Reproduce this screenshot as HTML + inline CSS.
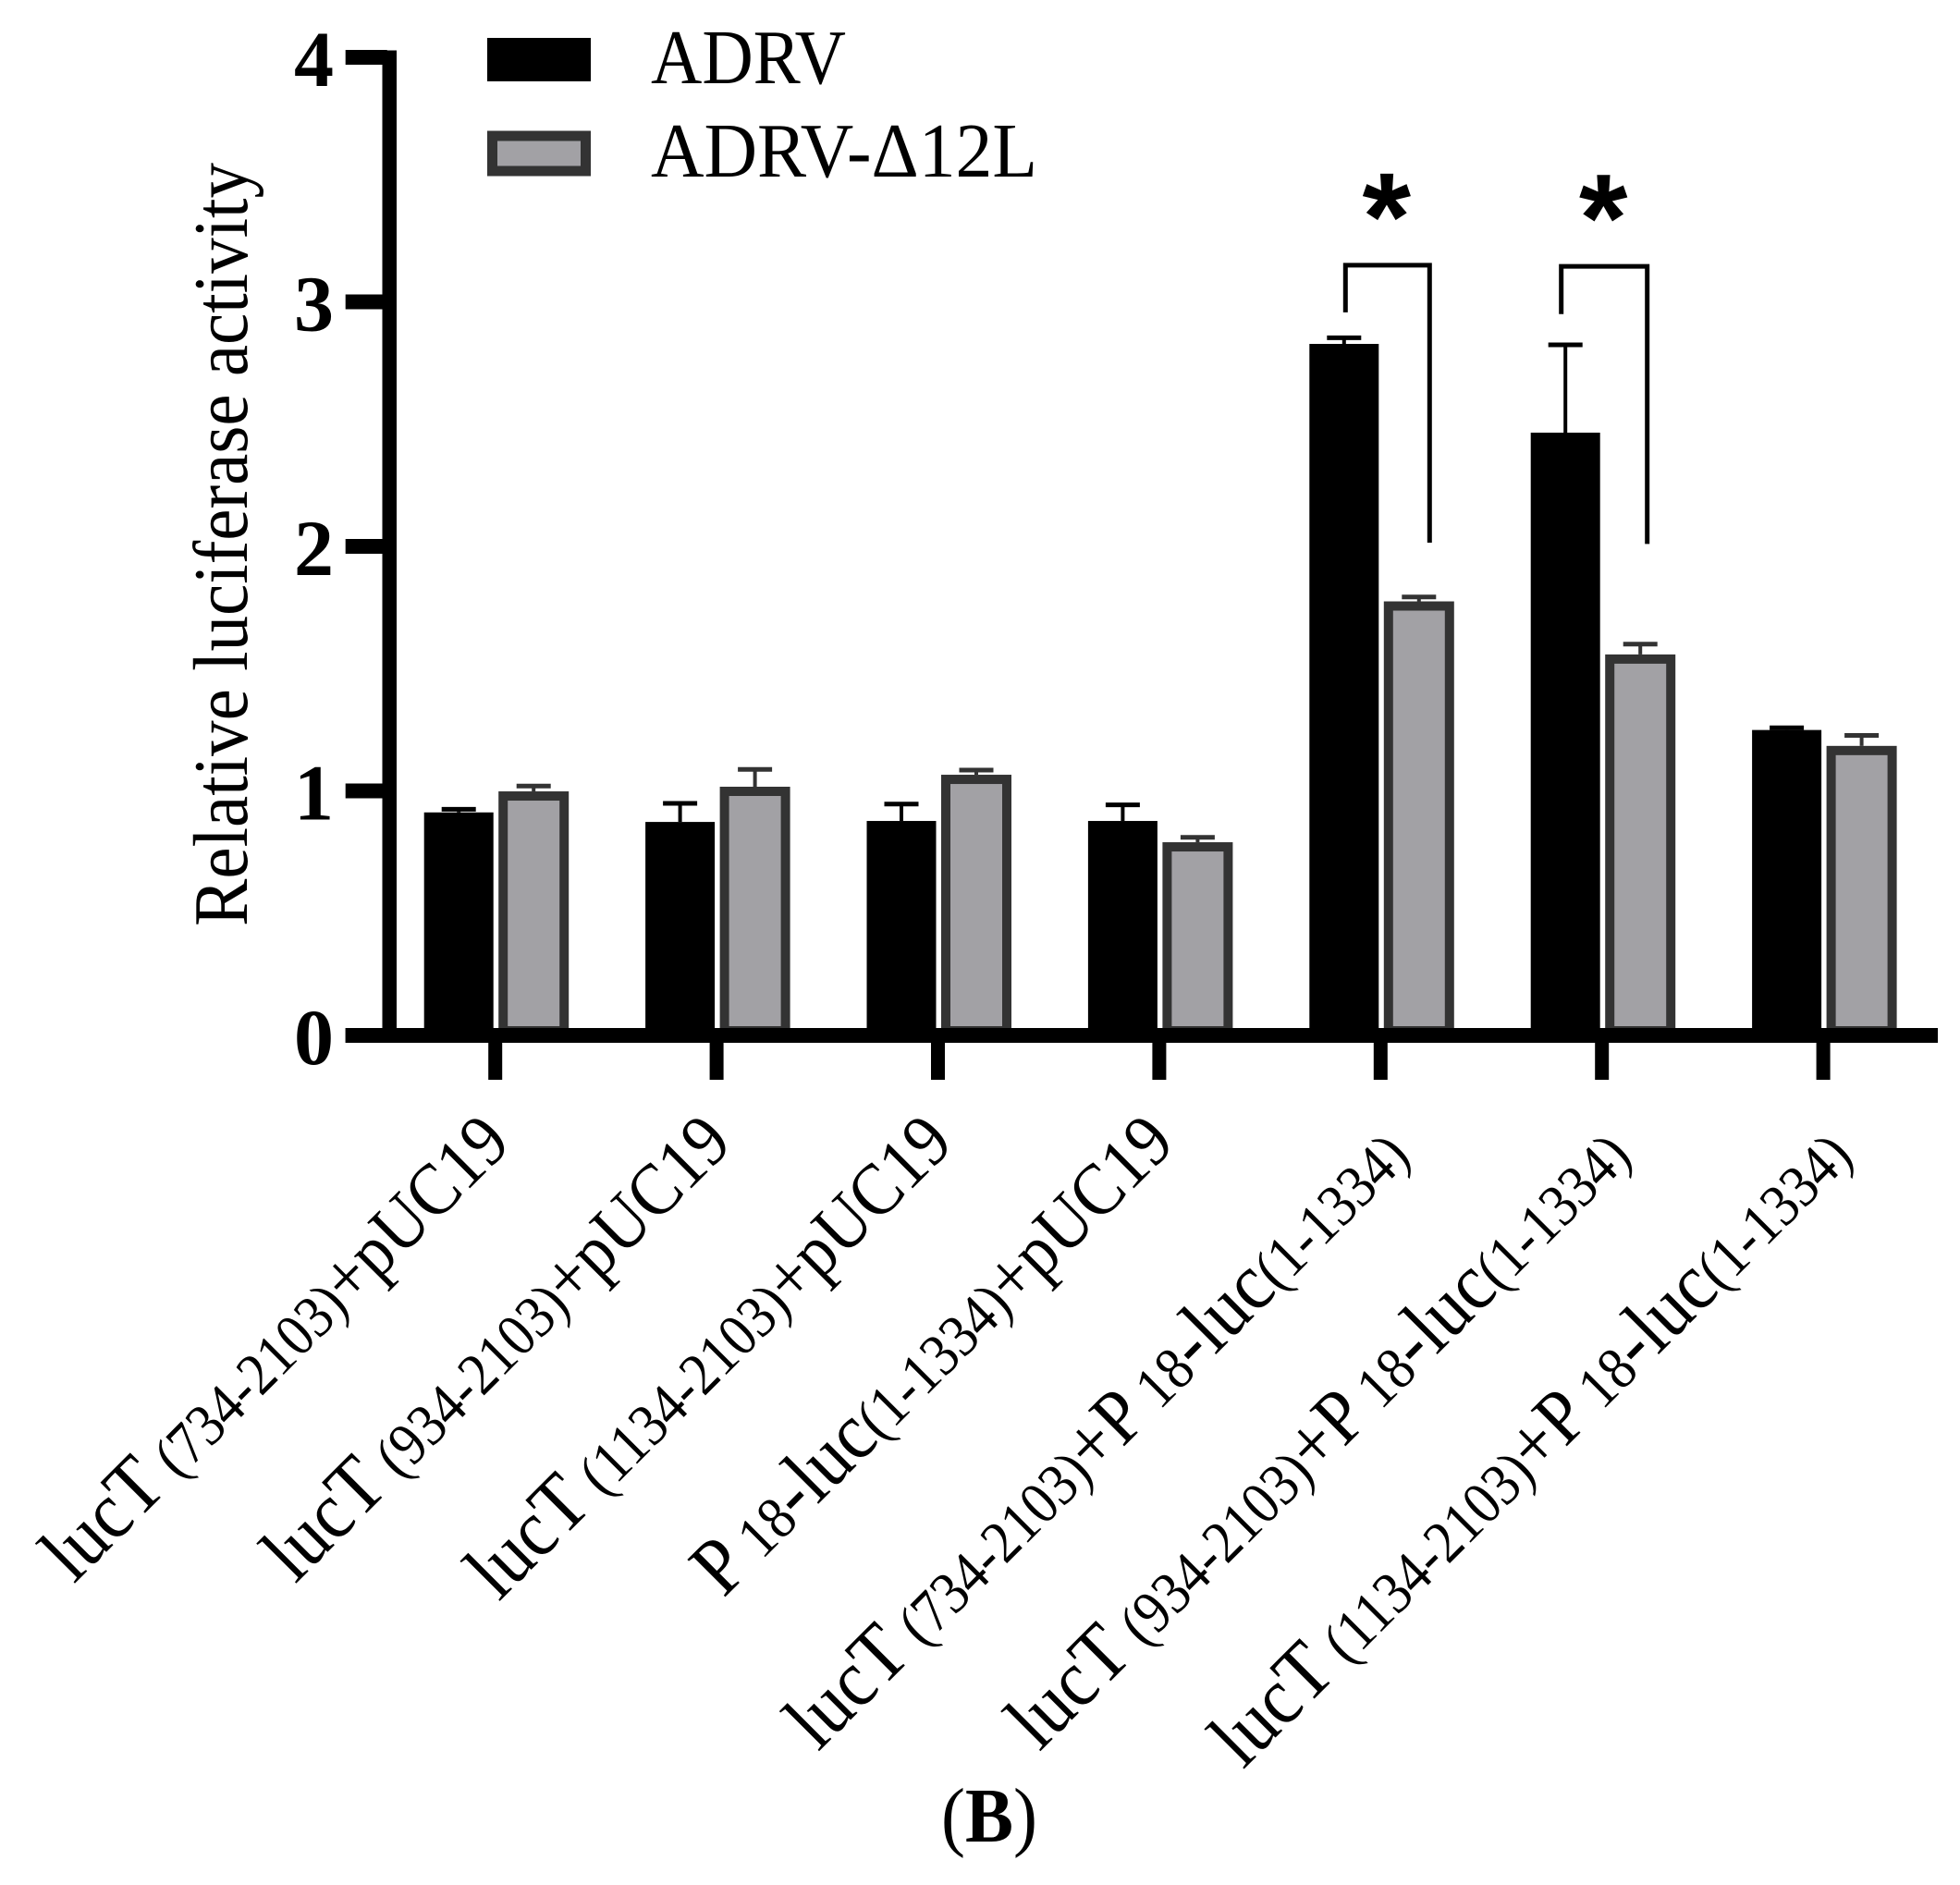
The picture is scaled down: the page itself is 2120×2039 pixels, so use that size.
<!DOCTYPE html>
<html lang="en">
<head>
<meta charset="utf-8">
<title>Relative luciferase activity</title>
<style>
html,body{margin:0;padding:0;background:#fff;}
svg{display:block;}
text{font-family:"Liberation Serif","Noto Serif CJK SC",serif;fill:#000;}
</style>
</head>
<body>
<svg id="chart" xmlns="http://www.w3.org/2000/svg" width="2120" height="2039" viewBox="0 0 2120 2039">
  <rect width="2120" height="2039" fill="#fff"/>
  <g id="bars"></g>
  <g id="axes"></g>
  <g id="annotations"></g>
  <g id="labels"></g>

  <text transform="translate(267,1002) rotate(-90)" font-size="84" textLength="826" lengthAdjust="spacingAndGlyphs">Relative luciferase activity</text>

  <g>
    <rect x="527" y="41" width="112" height="47" fill="#000"/>
    <text x="704" y="90" font-size="84" textLength="211" lengthAdjust="spacingAndGlyphs">ADRV</text>
    <rect x="532.5" y="147" width="101" height="38" fill="#a2a1a5" stroke="#333" stroke-width="11"/>
    <text x="704" y="191" font-size="84" textLength="418" lengthAdjust="spacingAndGlyphs">ADRV-Δ12L</text>
  </g>

  <text x="1018" y="1992" font-size="84" textLength="104" lengthAdjust="spacingAndGlyphs">(<tspan font-weight="bold">B</tspan>)</text>
</svg>

<script>
// ---- chart data ----
const categoryParts = [
  ["lucT", " (734-2103)", "+pUC19"],
  ["lucT", " (934-2103)", "+pUC19"],
  ["lucT", " (1134-2103)", "+pUC19"],
  ["P", " 18", "-luc", "(1-1334)", "+pUC19"],
  ["lucT", " (734-2103)", "+P", " 18", "-luc", "(1-1334)"],
  ["lucT", " (934-2103)", "+P", " 18", "-luc", "(1-1334)"],
  ["lucT", " (1134-2103)", "+P", " 18", "-luc", "(1-1334)"]
];
const adrvValues = [0.912, 0.873, 0.877, 0.877, 2.828, 2.465, 1.249];
const adrvErrorTops = [0.925, 0.949, 0.946, 0.943, 2.853, 2.824, 1.258];
const deltaValues = [0.998, 1.017, 1.066, 0.790, 1.775, 1.558, 1.184];
const deltaErrorTops = [1.020, 1.088, 1.085, 0.810, 1.793, 1.600, 1.227];
const yTickValues = [0, 1, 2, 3, 4];
const yTickLabels = ["0", "1", "2", "3", "4"];
const significantGroups = [4, 5];
const bracketTopValues = [3.15, 3.145];
const bracketLeftEndValues = [2.957, 2.95];
const bracketRightEndValues = [2.015, 2.01];
const significanceMarks = ["*", "*"];

// ---- axis functions ----
const NS = "http://www.w3.org/2000/svg";
function yScale(v) { return 1120 - 264.5 * v; }
function xTick(i) { return 535.7 + 239.4 * i; }

const BAR_W = 75;
const DELTA_W = 76;
const ADRV_SHIFT = -39.5;
const DELTA_SHIFT = 41.5;
const CAP_W = 37;
const DELTA_BORDER = 10;

const barsG = document.getElementById("bars");
const axesG = document.getElementById("axes");
const annG = document.getElementById("annotations");
const labelsG = document.getElementById("labels");

function make(tag, parent, attrs) {
  const el = document.createElementNS(NS, tag);
  for (const k in attrs) el.setAttribute(k, attrs[k]);
  parent.appendChild(el);
  return el;
}

function partFontSize(part, index) {
  if (index % 2 === 1) return 65;
  if (part === "+pUC19") return 80;
  if (part === "+P") return 84;
  return 88;
}

function drawErrorBar(cx, topV, baseV, color) {
  const stem = make("line", barsG, { x1: cx, x2: cx, y1: yScale(baseV), y2: yScale(topV), stroke: color, "stroke-width": 4 });
  
  
  const cap = make("line", barsG, { x1: cx - CAP_W / 2, x2: cx + CAP_W / 2, y1: yScale(topV), y2: yScale(topV), stroke: color, "stroke-width": 5 });
  
  
}

// bars and error bars
adrvValues.forEach(function (v, i) {
  const cx = xTick(i) + ADRV_SHIFT;
  drawErrorBar(cx, adrvErrorTops[i], v, "#000");
  const bar = make("rect", barsG, { x: cx - BAR_W / 2, y: yScale(v), width: BAR_W, height: yScale(0) - yScale(v), fill: "#000" });
  
  
});
deltaValues.forEach(function (v, i) {
  const cx = xTick(i) + DELTA_SHIFT;
  drawErrorBar(cx, deltaErrorTops[i], v, "#333");
  const inset = DELTA_BORDER / 2;
  const bar = make("rect", barsG, {
    x: cx - DELTA_W / 2 + inset, y: yScale(v) + inset,
    width: DELTA_W - DELTA_BORDER, height: yScale(0) - yScale(v) - DELTA_BORDER,
    fill: "#a2a1a5", stroke: "#333", "stroke-width": DELTA_BORDER
  });
  
  
});

// y axis
const yAxisLine = make("rect", axesG, { x: 413.5, y: yScale(4) - 7.5, width: 15.5, height: yScale(0) - yScale(4) + 15, fill: "#000" });



yTickValues.forEach(function (v, i) {
  const tick = make("rect", axesG, { x: 373.7, y: yScale(v) - 8, width: 45, height: 16, fill: "#000" });
  
  
  const label = make("text", axesG, { x: 361, y: yScale(v) + 31, "font-size": 86, "font-weight": "bold", "text-anchor": "end" });
  label.textContent = yTickLabels[i];
  
  
});

// x axis
const xAxisLine = make("rect", axesG, { x: 373.7, y: yScale(0) - 8, width: 1722.3, height: 16, fill: "#000" });



categoryParts.forEach(function (parts, i) {
  const tick = make("rect", axesG, { x: xTick(i) - 7.5, y: yScale(0), width: 15, height: 48, fill: "#000" });
  
  

  const endsSmall = parts.length % 2 === 0;
  const endX = xTick(i) + (endsSmall ? 34 : 19);
  const endY = endsSmall ? 1253 : 1239;
  const label = make("text", labelsG, {
    transform: "translate(" + endX + "," + endY + ") rotate(-45) scale(0.9,1)",
    "text-anchor": "end"
  });
  label.setAttribute('xml:space', 'preserve');
  label.style.whiteSpace = "pre";
  
  
  parts.forEach(function (part, j) {
    const span = make("tspan", label, { "font-size": partFontSize(part, j) });
    span.textContent = part;
  });
});

// significance brackets
significantGroups.forEach(function (g, i) {
  const tx = xTick(g);
  const lx = tx + (i === 0 ? -38 : -44);
  const rx = tx + (i === 0 ? 53 : 49);
  const path = make("polyline", annG, {
    points: lx + "," + yScale(bracketLeftEndValues[i]) + " " + lx + "," + yScale(bracketTopValues[i]) + " " +
            rx + "," + yScale(bracketTopValues[i]) + " " + rx + "," + yScale(bracketRightEndValues[i]),
    fill: "none", stroke: "#000", "stroke-width": 5
  });
  
  
  const star = make("text", annG, {
    x: (lx + rx) / 2 - 1, y: yScale(bracketTopValues[i]) - 6,
    "font-size": 135, "font-weight": "bold", "text-anchor": "middle",
    style: 'font-family:"Liberation Sans",sans-serif'
  });
  star.textContent = significanceMarks[i];
  
  
});
</script>
</body>
</html>
